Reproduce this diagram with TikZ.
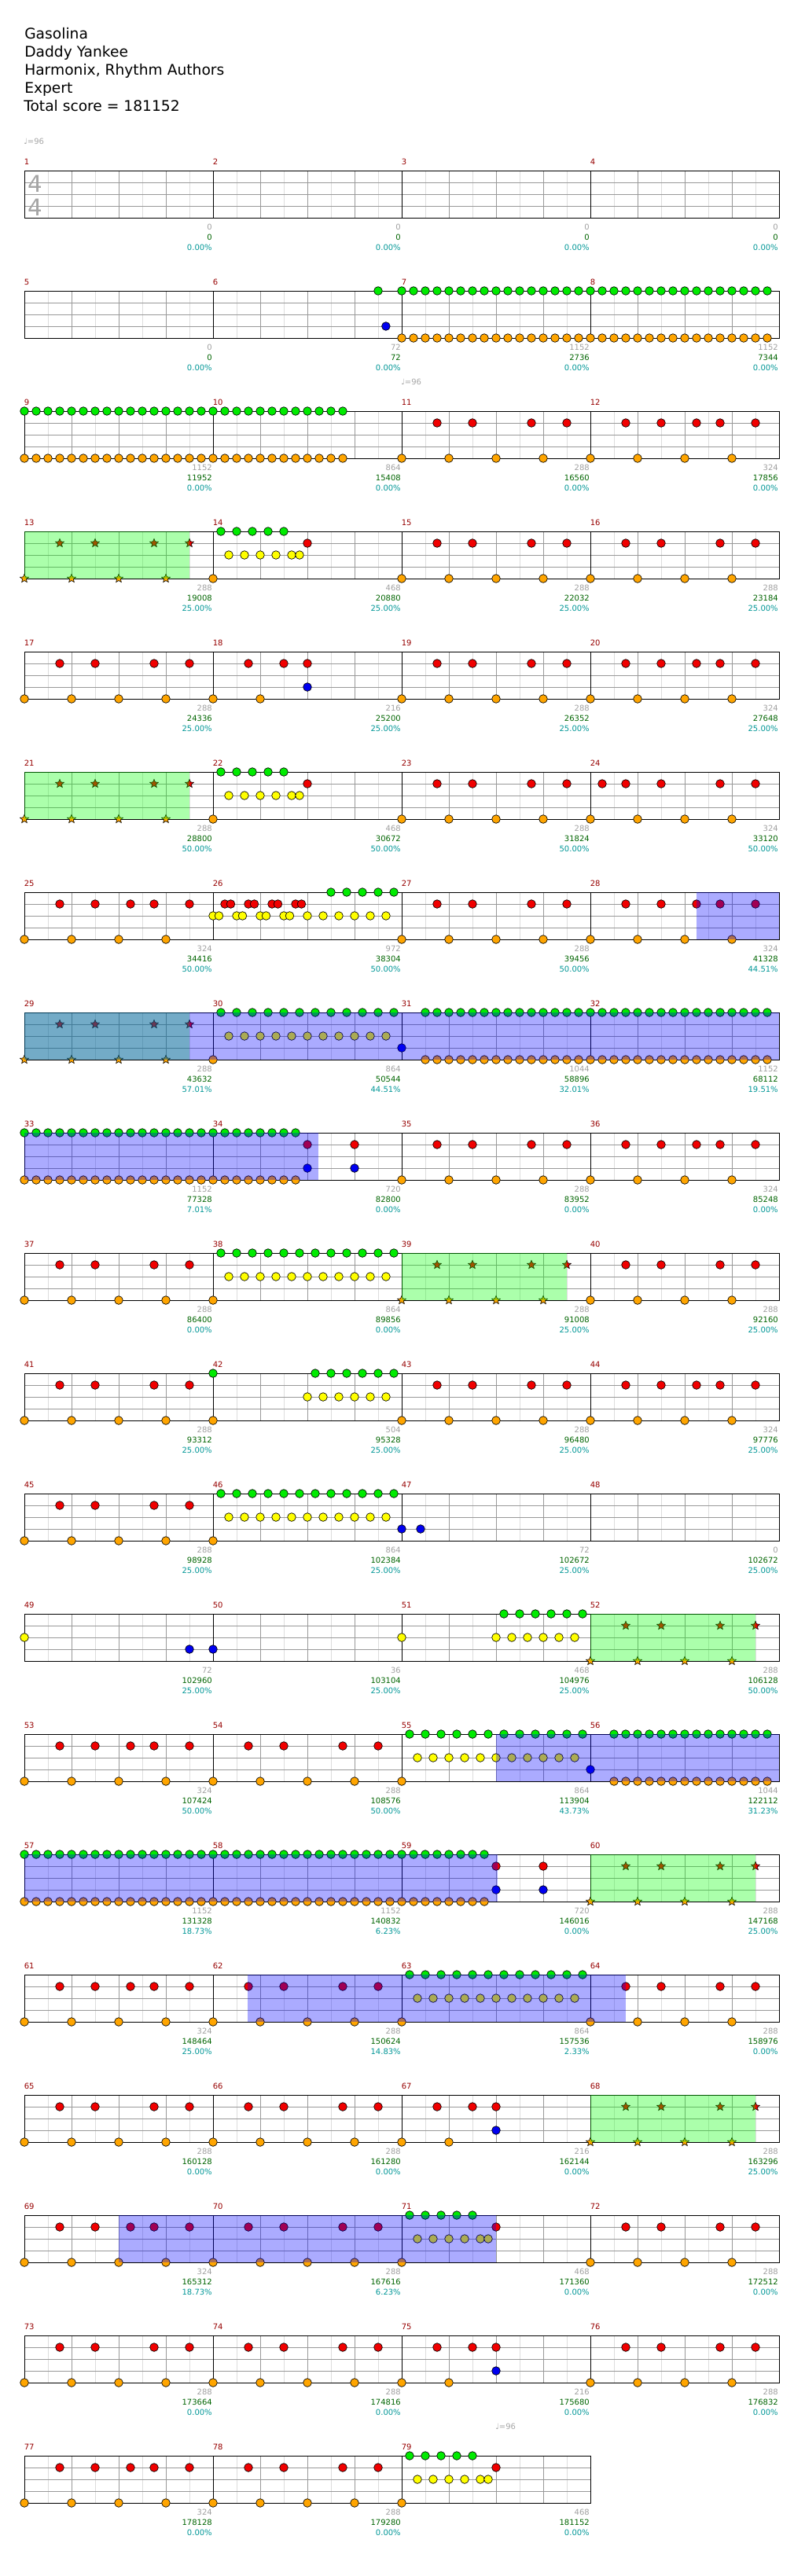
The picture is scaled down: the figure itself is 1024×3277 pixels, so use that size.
\documentclass[tikz,border=0pt]{standalone}
\usepackage{fontspec}
\setmainfont{DejaVu Sans}
\usetikzlibrary{shapes.geometric}

\definecolor{gemgreen}{RGB}{0,235,0}
\definecolor{gemred}{RGB}{240,0,0}
\definecolor{gemyellow}{RGB}{255,255,0}
\definecolor{gemblue}{RGB}{0,0,240}
\definecolor{gemorange}{RGB}{255,165,0}
\definecolor{halfgray}{RGB}{221,221,221}
\definecolor{beatgray}{RGB}{153,153,153}
\definecolor{numred}{RGB}{150,0,0}
\definecolor{ptsgray}{RGB}{160,160,160}
\definecolor{totgreen}{RGB}{0,100,0}
\definecolor{pctteal}{RGB}{0,150,150}
\definecolor{sigray}{RGB}{165,165,165}

\tikzset{
  halfline/.style={draw=halfgray, line width=0.75pt},
  beatline/.style={draw=beatgray, line width=0.75pt},
  laneline/.style={draw=beatgray, line width=0.75pt},
  barline/.style={draw=black, line width=0.75pt},
  gem/.style={draw=black, line width=0.5pt},
  lane0/.style={fill=gemgreen},
  lane1/.style={fill=gemred},
  lane2/.style={fill=gemyellow},
  lane3/.style={fill=gemblue},
  lane4/.style={fill=gemorange},
  starnote/.style={star, star points=5, star point ratio=2.2, minimum size=8.5pt,
    inner sep=0pt, draw=black, line width=0.45pt},
  spfill/.style={fill={rgb,255:red,0;green,255;blue,0}, fill opacity=0.33},
  odfill/.style={fill={rgb,255:red,0;green,0;blue,255}, fill opacity=0.33},
  small/.style={font=\fontsize{7.5pt}{9pt}\selectfont, inner sep=0pt},
  mnum/.style={small, text=numred, anchor=base west},
  sgray/.style={small, text=ptsgray, anchor=base east},
  sgreen/.style={small, text=totgreen, anchor=base east},
  spct/.style={small, text=pctteal, anchor=base east},
  title/.style={font=\fontsize{14pt}{16pt}\selectfont, inner sep=0pt, anchor=base west},
  tsig/.style={font=\fontsize{22pt}{24pt}\selectfont, text=sigray, inner sep=0pt},
  tempo/.style={small, text=sigray, anchor=west}
}

% start of measure #1: \mx, \my (top line)
\newcommand{\mpos}[1]{%
  \pgfmathtruncatemacro{\mrow}{(#1-1)/4}%
  \pgfmathtruncatemacro{\mcol}{#1-1-4*\mrow}%
  \pgfmathsetmacro{\mx}{31+240*\mcol}%
  \pgfmathsetmacro{\my}{217+153*\mrow}}

% one staff row: row index, number of measures
\newcommand{\staffrow}[2]{%
  \pgfmathsetmacro{\ry}{217+153*#1}%
  \pgfmathsetmacro{\rx}{31+240*#2}%
  \pgfmathtruncatemacro{\nh}{8*#2-1}%
  \pgfmathtruncatemacro{\nb}{4*#2-1}%
  \foreach \k in {1,3,...,\nh} {\draw[halfline] ({31+30*\k},\ry) -- ++(0,60);}
  \foreach \k in {1,...,\nb} {\draw[beatline] ({31+60*\k},\ry) -- ++(0,60);}
  \foreach \h in {15,30,45} {\draw[laneline] (31,{\ry+\h}) -- (\rx,{\ry+\h});}
  \pgfmathtruncatemacro{\nm}{#2-1}%
  \foreach \k in {1,...,\nm} {\draw[barline] ({31+240*\k},\ry) -- ++(0,60);}
  \draw[barline] (31,\ry) rectangle (\rx,{\ry+60});}

% gems: measure, lane (0 green ... 4 orange), positions in eighths
\newcommand{\gems}[3]{\mpos{#1}%
  \foreach \p in {#3} {\filldraw[gem, lane#2] ({\mx+30*\p},{\my+15*#2}) circle[radius=4pt];}}

\newcommand{\grooveA}[1]{\gems{#1}{1}{1.5,3,5.5,7}\gems{#1}{4}{0,2,4,6}}
\newcommand{\grooveB}[1]{\gems{#1}{1}{1.5,3,4.5,5.5,7}\gems{#1}{4}{0,2,4,6}}
\newcommand{\breakC}[1]{\gems{#1}{1}{1.5,3,4}\gems{#1}{3}{4}\gems{#1}{4}{0,2}}
\newcommand{\riffH}[1]{\gems{#1}{0}{0.333,1,1.667,2.333,3}%
  \gems{#1}{2}{0.667,1.333,2,2.667,3.333,3.667}\gems{#1}{1}{4}\gems{#1}{4}{0}}
\newcommand{\tripT}[1]{\gems{#1}{0}{0.333,1,1.667,2.333,3,3.667,4.333,5,5.667,6.333,7,7.667}%
  \gems{#1}{2}{0.667,1.333,2,2.667,3.333,4,4.667,5.333,6,6.667,7.333}\gems{#1}{4}{0}}
\newcommand{\runs}[2]{\gems{#1}{0}{#2}\gems{#1}{4}{#2}}

% star power measure
\newcommand{\spmeas}[1]{\mpos{#1}%
  \foreach \p [count=\i] in {1.5,3,5.5,7}
    {\node[starnote, fill=gemred] (st#1r\i) at ({\mx+30*\p},{\my+15}) {};}
  \foreach \p [count=\i] in {0,2,4,6}
    {\node[starnote, fill=gemorange] (st#1o\i) at ({\mx+30*\p},{\my+60}) {};}
  \fill[spfill] (\mx,\my) rectangle ({\mx+210},{\my+60});}

% overdrive zone: measure, from, to (eighths from that measure)
\newcommand{\odzone}[3]{\mpos{#1}%
  \fill[odfill] ({\mx+30*#2},\my) rectangle ({\mx+30*#3},{\my+60});}

\begin{document}
\begin{tikzpicture}[x=0.75pt,y=-0.75pt]
\useasboundingbox (0,0) rectangle (1024,3277);

% header
\node[title] (song) at (31,49) {Gasolina};
\node[title] (artist) at (31,72) {Daddy Yankee};
\node[title] (charter) at (31,95) {Harmonix, Rhythm Authors};
\node[title] (level) at (31,118) {Expert};
\node[title] (total) at (30,141) {Total score = 181152};

% staves
\foreach \r in {0,...,18} {\staffrow{\r}{4}}
\staffrow{19}{3}
\node[tsig] (sigtop) at (44.5,233.5) {4};
\node[tsig] (sigbot) at (44.5,263.5) {4};

% tempo
\node[tempo] (tempoa) at (30,180) {♩=96};
\node[tempo] (tempob) at (510,486) {♩=96};
\node[tempo] (tempoc) at (630,3087) {♩=96};

% notes
\foreach \m in {11,15,16,17,19,23,27,35,37,40,41,43,45,54,62,64,65,66,70,72,73,74,76,78} {\grooveA{\m}}
\foreach \m in {12,20,25,28,36,44,53,61,69,77} {\grooveB{\m}}
\foreach \m in {18,67,75} {\breakC{\m}}
\foreach \m in {14,22,71,79} {\riffH{\m}}
\foreach \m in {30,38,46,55,63} {\tripT{\m}}
\foreach \m in {7,8,9,32,33,57,58} {\runs{\m}{0,0.5,...,7.5}}
\runs{10}{0,0.5,...,5.5}
\runs{31}{1,1.5,...,7.5}\gems{31}{3}{0}
\runs{56}{1,1.5,...,7.5}\gems{56}{3}{0}
\foreach \m in {34,59} {\runs{\m}{0,0.5,...,3.5}\gems{\m}{1}{4,6}\gems{\m}{3}{4,6}}
\gems{6}{0}{7}\gems{6}{3}{7.33}
\gems{24}{1}{0.5,1.5,3,5.5,7}\gems{24}{4}{0,2,4,6}
\gems{26}{1}{0.5,0.75,1.5,1.75,2.5,2.75,3.5,3.75}
\gems{26}{2}{0,0.25,1,1.25,2,2.25,3,3.25,4,4.667,5.333,6,6.667,7.333}
\gems{26}{0}{5,5.667,6.333,7,7.667}
\gems{42}{0}{0,4.333,5,5.667,6.333,7,7.667}
\gems{42}{2}{4,4.667,5.333,6,6.667,7.333}\gems{42}{4}{0}
\gems{47}{3}{0,0.8}
\gems{49}{2}{0}\gems{49}{3}{7}
\gems{50}{3}{0}
\gems{51}{2}{0,4,4.667,5.333,6,6.667,7.333}
\gems{51}{0}{4.333,5,5.667,6.333,7,7.667}

% star power
\foreach \m in {13,21,29,39,52,60,68} {\spmeas{\m}}

% overdrive
\odzone{28}{4.5}{8}
\odzone{29}{0}{32}
\odzone{33}{0}{12.45}
\odzone{55}{4}{16}
\odzone{57}{0}{20.05}
\odzone{62}{1.45}{17.5}
\odzone{69}{4}{20}

% measure numbers and scores
\foreach \m in {1,...,79} {\mpos{\m}\node[mnum] (n\m) at ({\mx-0.5},{\my-7.5}) {\m};}
\foreach \m/\a/\b/\c in {1/0/0/0.00, 2/0/0/0.00, 3/0/0/0.00, 4/0/0/0.00,
  5/0/0/0.00, 6/72/72/0.00, 7/1152/2736/0.00, 8/1152/7344/0.00,
  9/1152/11952/0.00, 10/864/15408/0.00, 11/288/16560/0.00, 12/324/17856/0.00,
  13/288/19008/25.00, 14/468/20880/25.00, 15/288/22032/25.00, 16/288/23184/25.00,
  17/288/24336/25.00, 18/216/25200/25.00, 19/288/26352/25.00, 20/324/27648/25.00,
  21/288/28800/50.00, 22/468/30672/50.00, 23/288/31824/50.00, 24/324/33120/50.00,
  25/324/34416/50.00, 26/972/38304/50.00, 27/288/39456/50.00, 28/324/41328/44.51,
  29/288/43632/57.01, 30/864/50544/44.51, 31/1044/58896/32.01, 32/1152/68112/19.51,
  33/1152/77328/7.01, 34/720/82800/0.00, 35/288/83952/0.00, 36/324/85248/0.00,
  37/288/86400/0.00, 38/864/89856/0.00, 39/288/91008/25.00, 40/288/92160/25.00,
  41/288/93312/25.00, 42/504/95328/25.00, 43/288/96480/25.00, 44/324/97776/25.00,
  45/288/98928/25.00, 46/864/102384/25.00, 47/72/102672/25.00, 48/0/102672/25.00,
  49/72/102960/25.00, 50/36/103104/25.00, 51/468/104976/25.00, 52/288/106128/50.00,
  53/324/107424/50.00, 54/288/108576/50.00, 55/864/113904/43.73, 56/1044/122112/31.23,
  57/1152/131328/18.73, 58/1152/140832/6.23, 59/720/146016/0.00, 60/288/147168/25.00,
  61/324/148464/25.00, 62/288/150624/14.83, 63/864/157536/2.33, 64/288/158976/0.00,
  65/288/160128/0.00, 66/288/161280/0.00, 67/216/162144/0.00, 68/288/163296/25.00,
  69/324/165312/18.73, 70/288/167616/6.23, 71/468/171360/0.00, 72/288/172512/0.00,
  73/288/173664/0.00, 74/288/174816/0.00, 75/216/175680/0.00, 76/288/176832/0.00,
  77/324/178128/0.00, 78/288/179280/0.00, 79/468/181152/0.00}
{
  \mpos{\m}
  \node[sgray] (pts\m) at ({\mx+239},{\my+75.6}) {\a};
  \node[sgreen] (tot\m) at ({\mx+239},{\my+88.6}) {\b};
  \node[spct] (pct\m) at ({\mx+239},{\my+101.6}) {\c\%};
}
\end{tikzpicture}
\end{document}
